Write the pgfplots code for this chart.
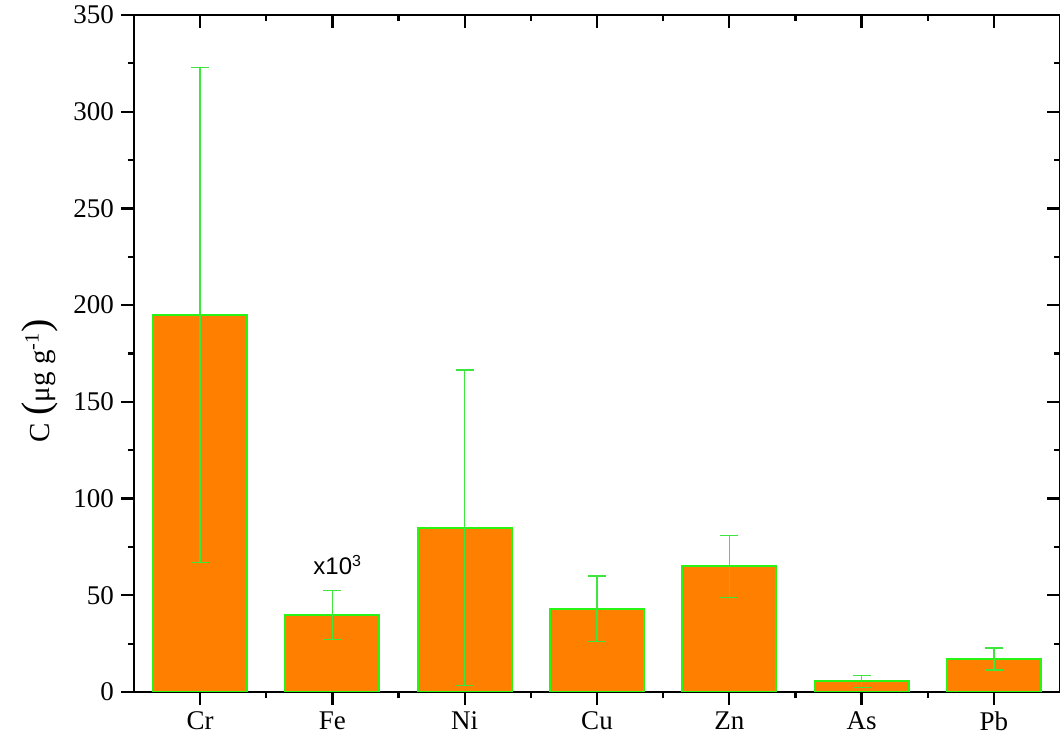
\documentclass[border=0pt]{standalone}
\usepackage{fontspec}
\setmainfont{Liberation Serif}
\newfontfamily\arialfont{Liberation Sans}
\usepackage{pgfplots}
\pgfplotsset{compat=1.18}
\definecolor{barfill}{RGB}{255,128,0}
\definecolor{baredge}{RGB}{40,245,20}
\definecolor{errgreen}{RGB}{60,230,60}

\begin{document}
\begin{tikzpicture}
\pgfplotsset{
  every axis/.append style={
    scale only axis, width=463pt, height=338.5pt,
    xmin=-0.5, xmax=6.5, ymin=0, ymax=350,
    xtick={0,...,6}, minor xtick={0.5,1.5,...,5.5},
    ytick={0,50,...,350}, minor ytick={25,75,...,325},
    major tick length=6.5pt, minor tick length=3.2pt,
    axis line style={line width=1.1pt},
    every tick/.style={black, line width=1.1pt},
  }
}
% frame ticks on top and right (pointing inward)
\begin{axis}[
  xtick pos=right, ytick pos=right, tick align=inside,
  xticklabels={}, yticklabels={},
]
\end{axis}
\begin{axis}[
  xtick pos=left, ytick pos=left, tick align=outside,
  xticklabels={Cr,Fe,Ni,Cu,Zn,As,Pb},
  ticklabel style={font=\fontsize{13.5}{15}\selectfont},
  /pgf/number format/assume math mode=true,
  ylabel={C {\fontsize{20}{21}\selectfont(}μg g\textsuperscript{-1}{\fontsize{20}{21}\selectfont)}},
  ylabel style={font=\fontsize{14.5}{16}\selectfont, at={(axis description cs:-0.102,0.46)}, anchor=center},
]
\addplot[ybar, bar width=47pt, fill=barfill, draw=baredge, line width=1pt,
  error bars/.cd, y dir=both, y explicit,
  error bar style={errgreen, line width=0.65pt},
  error mark options={rotate=90, errgreen, mark size=4.5pt, line width=0.65pt}]
  table[x=x, y=y, y error=e] {
  x y    e
  0 195  128
  1 39.7 12.7
  2 85   81.5
  3 43   17
  4 65   16
  5 5.5  3
  6 17   5.7
  };
\node[font=\arialfont\fontsize{12}{14}\selectfont, anchor=base] at (axis cs:1.04,60.5) {x10\textsuperscript{3}};
\coordinate (sw) at (rel axis cs:0,0);
\coordinate (ne) at (rel axis cs:1,1);
\end{axis}
\pgfresetboundingbox
\path[use as bounding box] ([xshift=-67pt,yshift=-26pt]sw) rectangle ([yshift=7.5pt]ne);
\end{tikzpicture}
\end{document}
